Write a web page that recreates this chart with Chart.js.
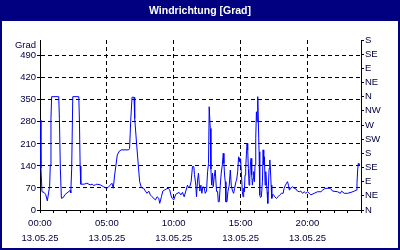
<!DOCTYPE html>
<html>
<head>
<meta charset="utf-8">
<script src="https://cdn.jsdelivr.net/npm/chart.js@4"></script>
<style>
  html, body { margin: 0; padding: 0; background: #fff; }
</style>
</head>
<body>
<canvas id="windChart" width="400" height="250"></canvas>
<script>
// Windrichtung 13.05.25, Stunden seit 00:00 und Grad
const chartTitle = 'Windrichtung [Grad]';
const unitLabel = 'Grad';
const dateLabel = '13.05.25';
const dirLabels = ['N', 'NE', 'E', 'SE', 'S', 'SW', 'W', 'NW', 'N', 'NE', 'E', 'SE', 'S'];

const hours = [
  0.0, 0.07, 0.15, 0.3, 0.42, 0.55, 0.65, 0.72, 0.77, 0.82, 0.87, 1.4, 1.45, 1.52, 1.6, 1.75, 1.85,
  2.1, 2.25, 2.3, 2.37, 2.45, 2.9, 2.95, 3.0, 3.05, 3.3, 3.5, 3.75, 3.9, 4.0, 4.15, 4.25, 4.5, 4.75, 4.97,
  5.1, 5.25, 5.38, 5.48, 5.58, 5.68, 5.78, 5.93, 6.08, 6.63, 6.7, 6.78, 6.88, 7.03, 7.08, 7.23, 7.33,
  7.45, 7.58, 7.75, 7.88, 8.0, 8.13, 8.25, 8.38, 8.63, 8.75, 8.88, 8.95, 9.08, 9.18, 9.33, 9.45, 9.58,
  9.7, 9.78, 9.88, 10.0, 10.15, 10.4, 10.53, 10.65, 10.78, 10.9, 11.03, 11.1, 11.2, 11.3, 11.4, 11.5,
  11.55, 11.65, 11.7, 11.78, 11.85, 11.95, 12.03, 12.1, 12.18, 12.28, 12.35, 12.45, 12.53, 12.6, 12.65,
  12.7, 12.73, 12.78, 12.83, 12.9, 12.95, 13.03, 13.1, 13.2, 13.28, 13.33, 13.4, 13.48, 13.55, 13.63,
  13.7, 13.75, 13.8, 13.85, 13.9, 13.98, 14.05, 14.15, 14.23, 14.3, 14.4, 14.48, 14.55, 14.65, 14.7,
  14.78, 14.85, 14.9, 14.95, 15.0, 15.05, 15.13, 15.18, 15.23, 15.28, 15.33, 15.38, 15.43, 15.48, 15.53,
  15.58, 15.63, 15.68, 15.73, 15.78, 15.83, 15.88, 15.93, 15.98, 16.03, 16.08, 16.13, 16.18, 16.23,
  16.28, 16.33, 16.38, 16.43, 16.48, 16.55, 16.63, 16.68, 16.73, 16.78, 16.83, 16.88, 16.93, 16.98,
  17.03, 17.08, 17.13, 17.18, 17.23, 17.28, 17.33, 17.38, 17.43, 17.55, 17.68, 17.8, 17.93, 18.05,
  18.18, 18.25, 18.35, 18.43, 18.5, 18.58, 18.63, 18.68, 18.75, 18.88, 19.0, 19.13, 19.25, 19.38, 19.5,
  19.63, 19.75, 19.88, 20.0, 20.13, 20.25, 20.5, 20.75, 21.0, 21.13, 21.25, 21.38, 21.7, 21.88, 22.25,
  22.45, 22.55, 22.75, 23.0, 23.25, 23.5, 23.65, 23.7, 23.75, 23.8, 23.85
];

const direction = [
  285, 133, 58, 56, 50, 29, 57, 75, 143, 291, 360, 360, 291, 133, 37, 40, 48,
  57, 62, 54, 133, 360, 360, 280, 140, 82, 82, 85, 80, 82, 78, 80, 82, 80, 74, 69,
  72, 79, 85, 69, 111, 143, 175, 187, 191, 191, 196, 281, 358, 358, 291, 206, 153,
  90, 71, 69, 60, 53, 60, 48, 42, 32, 42, 37, 21, 42, 60, 64, 67, 69,
  64, 48, 37, 32, 50, 56, 48, 56, 42, 60, 79, 71, 74, 90, 138, 138,
  113, 79, 42, 95, 117, 60, 79, 53, 74, 71, 53, 60, 122, 148, 328,
  328, 259, 130, 79, 117, 74, 106, 127, 59, 59, 26, 26, 79, 117, 143,
  180, 148, 111, 90, 26, 26, 59, 79, 127, 79, 59, 53, 69, 90, 95,
  122, 169, 164, 153, 160, 122, 58, 42, 69, 58, 111, 132, 175, 212, 190,
  132, 79, 100, 143, 164, 111, 79, 100, 122, 90, 143, 228, 312, 280,
  360, 270, 185, 48, 40, 42, 90, 191, 143, 169, 79, 122, 90, 58,
  21, 79, 132, 159, 127, 79, 37, 48, 50, 42, 37, 42, 48, 53,
  53, 69, 79, 85, 90, 79, 64, 69, 69, 74, 69, 67, 60, 58, 60,
  53, 58, 53, 58, 53, 48, 53, 58, 58, 63, 67, 69, 69, 60, 58,
  53, 60, 53, 53, 56, 60, 63, 85, 127, 148, 143
];

const navy = '#000080';
const textColor = '#000040';
const tickFont = { family: 'Liberation Sans', size: 9.5, lineHeight: 1.6 };
const clear = 'rgba(0,0,0,0)';

// Rahmen, Titelleiste und "Grad" ueber der linken Achse
const framePlugin = {
  id: 'frame',
  beforeDraw(chart) {
    const c = chart.ctx;
    c.save();
    c.fillStyle = '#fff';
    c.fillRect(0, 0, chart.width, chart.height);
    c.fillStyle = navy;
    c.fillRect(0, 0, chart.width, 21);
    c.strokeStyle = navy;
    c.lineWidth = 2;
    c.strokeRect(1, 1, chart.width - 2, chart.height - 2);
    c.fillStyle = '#fff';
    c.font = 'bold 10.5px "Liberation Sans"';
    c.textAlign = 'center';
    c.textBaseline = 'middle';
    c.fillText(chartTitle, chart.width / 2, 11);
    c.restore();
  },
  afterDraw(chart) {
    const c = chart.ctx;
    c.save();
    c.fillStyle = textColor;
    c.font = '9.5px "Liberation Sans"';
    c.textAlign = 'right';
    c.textBaseline = 'middle';
    c.fillText(unitLabel, chart.chartArea.left - 4, chart.chartArea.top + 5);
    c.restore();
  }
};

new Chart(document.getElementById('windChart').getContext('2d'), {
  type: 'line',
  data: {
    datasets: [{
      data: hours.map((h, i) => ({ x: h, y: direction[i] })),
      borderColor: '#0000ff',
      borderWidth: 1,
      pointRadius: 0,
      tension: 0,
      fill: false
    }]
  },
  options: {
    responsive: false,
    animation: false,
    layout: { padding: { left: 2, right: 2, top: 40, bottom: 2 } },
    plugins: { legend: { display: false }, tooltip: { enabled: false } },
    scales: {
      x: {
        type: 'linear',
        min: 0,
        max: 24,
        afterFit: s => { s.height = 38; },
        ticks: {
          stepSize: 1,
          autoSkip: false,
          maxRotation: 0,
          padding: 3,
          color: textColor,
          font: tickFont,
          callback: v => (v % 5 === 0 && v < 24) ? [String(v).padStart(2, '0') + ':00', dateLabel] : ''
        },
        grid: {
          color: ctx => (ctx.tick && ctx.tick.value % 5 === 0 && ctx.tick.value > 0 && ctx.tick.value < 24) ? '#000' : clear,
          tickColor: '#000',
          tickLength: 3
        },
        border: { color: '#000', dash: [4, 3] }
      },
      y: {
        position: 'left',
        min: 0,
        max: 540,
        afterFit: s => { s.width = 38; },
        ticks: { stepSize: 70, includeBounds: false, autoSkip: false, padding: 1, color: textColor, font: tickFont },
        grid: {
          color: ctx => (ctx.tick && ctx.tick.value > 0) ? '#000' : clear,
          tickColor: '#000',
          tickLength: 3
        },
        border: { color: '#000', dash: [4, 3] }
      },
      y2: {
        position: 'right',
        min: 0,
        max: 540,
        afterFit: s => { s.width = 37; },
        ticks: {
          stepSize: 45,
          autoSkip: false,
          padding: 1,
          color: textColor,
          font: tickFont,
          callback: v => dirLabels[Math.round(v / 45)]
        },
        grid: { drawOnChartArea: false, tickColor: '#000', tickLength: 3 },
        border: { color: '#000' }
      }
    }
  },
  plugins: [framePlugin]
});
</script>
</body>
</html>
